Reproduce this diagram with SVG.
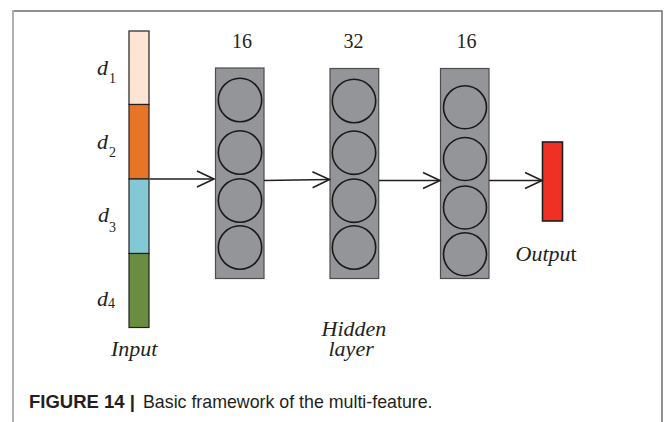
<svg xmlns="http://www.w3.org/2000/svg" width="665" height="422" viewBox="0 0 665 422">
<defs>
<style>
.frame{fill:none;stroke:#6d6e70;stroke-width:1.5}
.lframe{stroke:#b0b0b0;stroke-width:2}
.layer{fill:#939598;stroke:#4d4d4f;stroke-width:1.2}
.neuron{fill:none;stroke:#1a1a1a;stroke-width:1.6}
.seg{stroke:#231f20;stroke-width:1.2}
.conn{fill:none;stroke:#231f20;stroke-width:1.6}
.num{font-family:"Liberation Serif",serif;font-size:20px;fill:#231f20;text-anchor:middle}
.lab{font-family:"Liberation Serif",serif;font-size:22px;font-style:italic;fill:#231f20}
.sub{font-family:"Liberation Serif",serif;font-size:14px;font-style:normal;fill:#231f20}
.cap{font-family:"Liberation Sans",Arial,sans-serif;font-size:17.8px;fill:#231f20}
</style>
<marker id="arr" viewBox="0 0 20 20" refX="18" refY="10" markerWidth="20" markerHeight="20" markerUnits="userSpaceOnUse" orient="auto">
<path d="M1,2 L18,10 L1,18" fill="none" stroke="#231f20" stroke-width="1.6"/>
</marker>
</defs>
<rect width="665" height="422" fill="#ffffff"/>
<g id="frame">
<path class="frame" d="M13,11 H662 V422"/>
<line class="lframe" x1="13" y1="10" x2="13" y2="422"/>
</g>
<g id="input">
<rect class="seg" x="129" y="31" width="20" height="73.5" fill="#fde4d4"/>
<rect class="seg" x="129" y="104.5" width="20" height="74.5" fill="#e87425"/>
<rect class="seg" x="129" y="179" width="20" height="74.5" fill="#82c8d5"/>
<rect class="seg" x="129" y="253.5" width="20" height="74" fill="#6a8d42"/>
<text class="lab" x="97" y="75">d<tspan class="sub" dx="1" dy="8">1</tspan></text>
<text class="lab" x="97" y="149">d<tspan class="sub" dx="1" dy="7.5">2</tspan></text>
<text class="lab" x="98" y="222">d<tspan class="sub" dx="0" dy="10">3</tspan></text>
<text class="lab" x="97" y="306">d<tspan class="sub" dx="0" dy="1.5">4</tspan></text>
<text class="lab" x="111" y="356">Input</text>
</g>
<g id="hidden1">
<rect class="layer" x="215.5" y="68" width="48.5" height="210.5"/>
<circle class="neuron" cx="240" cy="100" r="21.7"/>
<circle class="neuron" cx="240" cy="152.5" r="21.7"/>
<circle class="neuron" cx="240" cy="200.5" r="21.7"/>
<circle class="neuron" cx="240" cy="247.5" r="21.7"/>
<text class="num" x="242" y="48">16</text>
</g>
<g id="hidden2">
<rect class="layer" x="330" y="68.5" width="48.7" height="210"/>
<circle class="neuron" cx="354" cy="101" r="21.7"/>
<circle class="neuron" cx="354" cy="152.7" r="21.7"/>
<circle class="neuron" cx="354" cy="200.7" r="21.7"/>
<circle class="neuron" cx="354" cy="247.5" r="21.7"/>
<text class="num" x="353.5" y="48">32</text>
<text class="lab" x="321.5" y="335.5">Hidden</text>
<text class="lab" x="328.5" y="355.5">layer</text>
</g>
<g id="hidden3">
<rect class="layer" x="440.5" y="68.5" width="48.5" height="210"/>
<circle class="neuron" cx="465" cy="107.3" r="21.5"/>
<circle class="neuron" cx="465" cy="159" r="21.5"/>
<circle class="neuron" cx="465" cy="207.5" r="21.5"/>
<circle class="neuron" cx="465" cy="254.3" r="21.5"/>
<text class="num" x="466.5" y="48">16</text>
</g>
<g id="output">
<rect x="542.5" y="142" width="20" height="79" fill="#ee3124" stroke="#231f20" stroke-width="1.6"/>
<text class="lab" x="515.5" y="261">Outpu<tspan font-style="normal">t</tspan></text>
</g>
<g id="connectors">
<path class="conn" d="M150,179 L214,179" marker-end="url(#arr)"/>
<path class="conn" d="M264,180.5 L329.5,179.5" marker-end="url(#arr)"/>
<path class="conn" d="M379,180.5 L440,180.5" marker-end="url(#arr)"/>
<path class="conn" d="M489,180.5 L542,180.5" marker-end="url(#arr)"/>
</g>
<text class="cap" x="29" y="407.5"><tspan font-weight="bold" font-size="18.5px">FIGURE 14 |</tspan><tspan x="143">Basic framework of the multi-feature.</tspan></text>
</svg>
